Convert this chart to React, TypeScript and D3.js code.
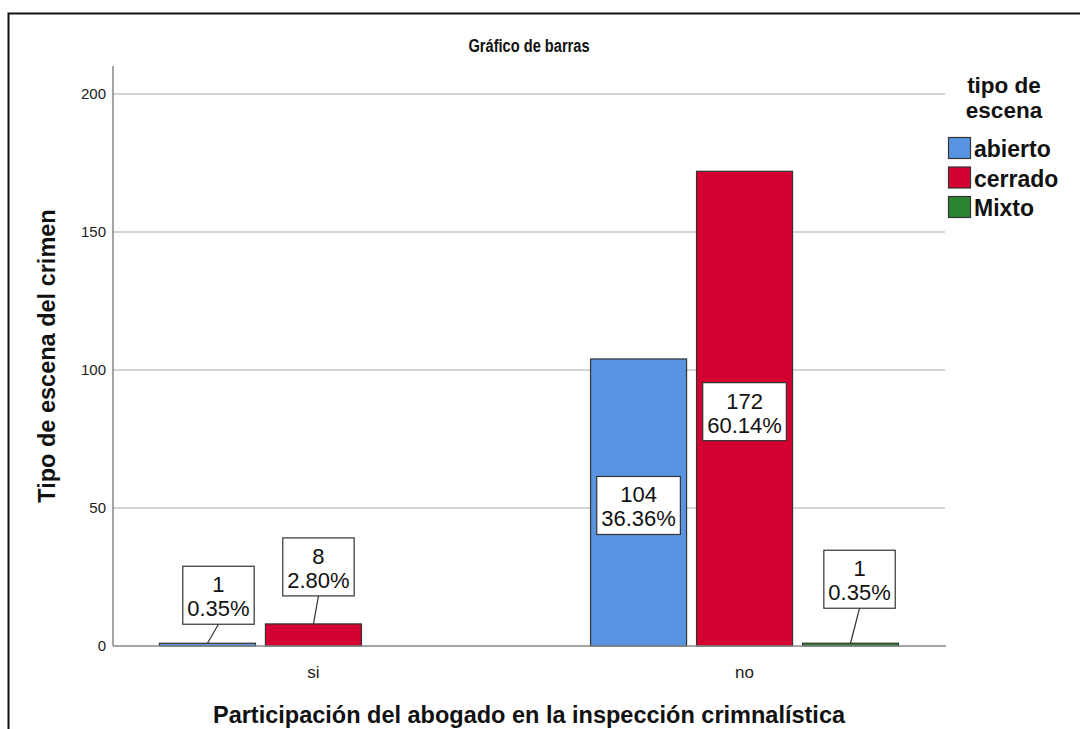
import React, { useEffect, useRef } from "react";
import * as d3 from "d3";

const categories = ["si", "no"];
const seriesNames = ["abierto", "cerrado", "Mixto"];
const seriesColors = ["#5894E1", "#D50032", "#2B8431"];
// counts per category (rows) per series (columns)
const counts: number[][] = [
  [1, 8, 0],
  [104, 172, 1],
];
const percents: string[][] = [
  ["0.35%", "2.80%", ""],
  ["36.36%", "60.14%", "0.35%"],
];
const yTicks = [0, 50, 100, 150, 200];
// layout nudges for labels drawn outside short bars (dx, dy of box bottom above bar top)
const outsideNudges: Record<string, [number, number]> = {
  "si-abierto": [11, -19],
  "si-cerrado": [5, -28],
  "no-Mixto": [9, -35],
};

const W = 1080;
const H = 729;
const FONT = "'Liberation Sans', Arial, sans-serif";

export default function App() {
  const ref = useRef<SVGSVGElement | null>(null);

  useEffect(() => {
    document.body.style.margin = "0";
    const svg = d3.select(ref.current);
    svg.selectAll("*").remove();

    const left = 113, right = 945, top = 66, bottom = 646;
    const y = d3.scaleLinear().domain([0, 200]).range([bottom, 94]);
    const x = d3.scalePoint<string>().domain(categories).range([left, right]).padding(0.465);
    const xs = d3.scaleBand<string>().domain(seriesNames).range([-154, 154]).paddingInner(0.094);

    // frame
    svg.append("path").attr("d", `M8.5,${H} V13.5 H${W}`).attr("fill", "none").attr("stroke", "#111").attr("stroke-width", 2);

    // title
    svg.append("text").attr("transform", "translate(529,52) scale(0.77,1)").attr("text-anchor", "middle")
      .attr("font-family", FONT).attr("font-size", 19).attr("font-weight", "bold").attr("fill", "#111")
      .text("Gráfico de barras");

    // gridlines
    svg.append("g").selectAll("line").data(yTicks.filter((t) => t > 0)).join("line")
      .attr("x1", left).attr("x2", right).attr("y1", (d) => y(d)).attr("y2", (d) => y(d))
      .attr("stroke", "#d4d4d4").attr("stroke-width", 2);

    // y tick labels
    svg.append("g").selectAll("text").data(yTicks).join("text")
      .attr("x", 106).attr("y", (d) => y(d) + 5).attr("text-anchor", "end")
      .attr("font-family", FONT).attr("font-size", 15).attr("fill", "#222")
      .text((d) => String(d));

    // bars
    const bars: { cat: string; ser: string; v: number; pct: string; color: string }[] = [];
    categories.forEach((c, i) => seriesNames.forEach((s, j) => {
      if (counts[i][j] > 0) bars.push({ cat: c, ser: s, v: counts[i][j], pct: percents[i][j], color: seriesColors[j] });
    }));

    svg.append("g").selectAll("rect").data(bars).join("rect")
      .attr("x", (d) => (x(d.cat) as number) + (xs(d.ser) as number))
      .attr("y", (d) => y(d.v))
      .attr("width", xs.bandwidth())
      .attr("height", (d) => bottom - y(d.v))
      .attr("fill", (d) => d.color)
      .attr("stroke", "#333").attr("stroke-width", 1.2);

    // axes lines
    svg.append("line").attr("x1", left).attr("x2", left).attr("y1", top).attr("y2", bottom)
      .attr("stroke", "#888").attr("stroke-width", 1.5);
    svg.append("line").attr("x1", left).attr("x2", right + 1).attr("y1", bottom).attr("y2", bottom)
      .attr("stroke", "#888").attr("stroke-width", 1.5);

    // category labels
    svg.append("g").selectAll("text").data(categories).join("text")
      .attr("x", (d) => x(d) as number).attr("y", 678).attr("text-anchor", "middle")
      .attr("font-family", FONT).attr("font-size", 17).attr("fill", "#222")
      .text((d) => d);

    // axis titles
    svg.append("text").attr("x", 529).attr("y", 723).attr("text-anchor", "middle")
      .attr("font-family", FONT).attr("font-size", 23.5).attr("font-weight", "bold").attr("fill", "#111")
      .text("Participación del abogado en la inspección crimnalística");
    svg.append("text").attr("transform", "translate(55,356) rotate(-90)").attr("text-anchor", "middle")
      .attr("font-family", FONT).attr("font-size", 23.5).attr("font-weight", "bold").attr("fill", "#111")
      .text("Tipo de escena del crimen");

    // data labels
    const boxH = 58;
    const lg = svg.append("g");
    bars.forEach((d) => {
      const cx0 = (x(d.cat) as number) + (xs(d.ser) as number) + xs.bandwidth() / 2;
      const barTop = y(d.v);
      const key = `${d.cat}-${d.ser}`;
      const inside = bottom - barTop > boxH + 20;
      let cx = cx0, boxTop: number;
      if (inside) {
        boxTop = (barTop + bottom) / 2 + 3 - boxH / 2;
      } else {
        const n = outsideNudges[key] || [8, -25];
        cx = cx0 + n[0];
        boxTop = barTop + n[1] - boxH;
      }
      const g = lg.append("g");
      const rect = g.append("rect");
      const t1 = g.append("text").attr("x", cx).attr("y", boxTop + 26).attr("text-anchor", "middle")
        .attr("font-family", FONT).attr("font-size", 22).attr("fill", "#111").text(String(d.v));
      const t2 = g.append("text").attr("x", cx).attr("y", boxTop + 50).attr("text-anchor", "middle")
        .attr("font-family", FONT).attr("font-size", 22).attr("fill", "#111").text(d.pct);
      const w1 = (t1.node() as SVGTextElement).getComputedTextLength();
      const w2 = (t2.node() as SVGTextElement).getComputedTextLength();
      const bw = Math.max(w1, w2) + 9;
      rect.attr("x", cx - bw / 2).attr("y", boxTop).attr("width", bw).attr("height", boxH)
        .attr("fill", "#fff").attr("stroke", "#333").attr("stroke-width", 1.2);
      if (!inside) {
        lg.insert("line", ":first-child").attr("x1", cx).attr("y1", boxTop + boxH).attr("x2", cx0).attr("y2", barTop)
          .attr("stroke", "#333").attr("stroke-width", 1.2);
      }
    });

    // legend
    svg.append("text").attr("x", 1004).attr("y", 93).attr("text-anchor", "middle")
      .attr("font-family", FONT).attr("font-size", 22.5).attr("font-weight", "bold").attr("fill", "#111").text("tipo de");
    svg.append("text").attr("x", 1004).attr("y", 118).attr("text-anchor", "middle")
      .attr("font-family", FONT).attr("font-size", 22.5).attr("font-weight", "bold").attr("fill", "#111").text("escena");
    const leg = svg.append("g").selectAll("g").data(seriesNames).join("g")
      .attr("transform", (_d, i) => `translate(948,${137 + i * 29.5})`);
    leg.append("rect").attr("x", 0.5).attr("y", 0.5).attr("width", 22).attr("height", 21)
      .attr("fill", (_d, i) => seriesColors[i]).attr("stroke", "#333").attr("stroke-width", 1.2);
    leg.append("text").attr("x", 26).attr("y", 20).attr("font-family", FONT).attr("font-size", 23)
      .attr("font-weight", "bold").attr("fill", "#111").text((d) => d);
  }, []);

  return (
    <div style={{ position: "absolute", left: 0, top: 0 }}>
      <svg ref={ref} width={W} height={H} style={{ display: "block", background: "#fff" }} />
    </div>
  );
}
